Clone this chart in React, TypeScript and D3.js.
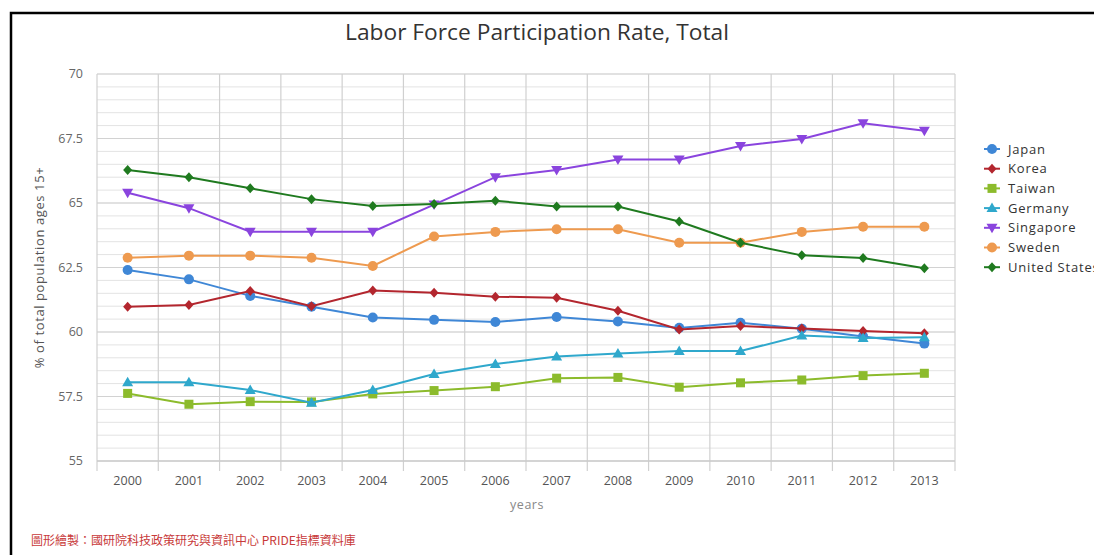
import React from "react";
import * as d3 from "d3";

const years = ["2000","2001","2002","2003","2004","2005","2006","2007","2008","2009","2010","2011","2012","2013"];
const yTicks = [55, 57.5, 60, 62.5, 65, 67.5, 70];

const japan = [62.4, 62.04, 61.4, 60.98, 60.56, 60.47, 60.39, 60.58, 60.41, 60.16, 60.36, 60.13, 59.83, 59.55];
const korea = [60.98, 61.05, 61.59, 61.0, 61.61, 61.52, 61.37, 61.33, 60.82, 60.1, 60.23, 60.14, 60.04, 59.95];
const taiwan = [57.62, 57.2, 57.3, 57.29, 57.6, 57.73, 57.88, 58.21, 58.24, 57.86, 58.03, 58.14, 58.31, 58.4];
const germany = [58.05, 58.05, 57.75, 57.26, 57.75, 58.37, 58.76, 59.05, 59.17, 59.26, 59.26, 59.86, 59.77, 59.8];
const singapore = [65.4, 64.8, 63.89, 63.89, 63.89, 64.94, 66.0, 66.28, 66.69, 66.69, 67.21, 67.48, 68.09, 67.8];
const sweden = [62.88, 62.96, 62.96, 62.88, 62.56, 63.7, 63.88, 63.98, 63.98, 63.46, 63.46, 63.88, 64.08, 64.08];
const unitedStates = [66.28, 66.0, 65.57, 65.15, 64.88, 64.96, 65.09, 64.86, 64.86, 64.28, 63.46, 62.97, 62.87, 62.47];

const seriesNames = ["Japan", "Korea", "Taiwan", "Germany", "Singapore", "Sweden", "United States"];
const seriesValues = [japan, korea, taiwan, germany, singapore, sweden, unitedStates];
const seriesColors = ["#3f87d6", "#b3262e", "#8cbb2c", "#2fa8cc", "#8a44de", "#ee9a4f", "#1f7a1f"];
const seriesMarkers = ["circle", "diamond", "square", "triangle", "triangle-down", "circle", "diamond"];

const W = 1094, H = 555;
const plot = { left: 97, right: 955, top: 74, bottom: 461 };
const font = "'Open Sans', 'DejaVu Sans', sans-serif";

function Marker({ type, x, y, color }: { type: string; x: number; y: number; color: string }) {
  if (type === "circle") return <circle cx={x} cy={y} r={5} fill={color} />;
  if (type === "square") return <rect x={x - 4.5} y={y - 4.5} width={9} height={9} fill={color} />;
  if (type === "diamond") return <path d={`M${x},${y - 5}L${x + 4.5},${y}L${x},${y + 5}L${x - 4.5},${y}Z`} fill={color} />;
  if (type === "triangle") return <path d={`M${x},${y - 5.5}L${x + 5.5},${y + 4}L${x - 5.5},${y + 4}Z`} fill={color} />;
  return <path d={`M${x},${y + 5.5}L${x + 5.5},${y - 4}L${x - 5.5},${y - 4}Z`} fill={color} />;
}

export default function App() {
  const x = d3.scaleBand<string>().domain(years).range([plot.left, plot.right]);
  const y = d3.scaleLinear().domain([55, 70]).range([plot.bottom, plot.top]);
  const minor = d3.range(55, 70.01, 0.5);
  const line = d3.line<number>().x((_, i) => (x(years[i]) as number) + x.bandwidth() / 2).y((v) => y(v));
  const boundaries = years.map((yr) => x(yr) as number).concat([plot.right]);

  return (
    <svg width={W} height={H} style={{ position: "absolute", left: 0, top: 0, background: "#fff" }}>
      <rect x={11} y={13} width={W} height={H} fill="none" stroke="#000" strokeWidth={2.5} />
      <text x={537} y={40} textAnchor="middle" fontFamily={font} fontSize={22} fill="#333" textLength={384} lengthAdjust="spacingAndGlyphs">
        Labor Force Participation Rate, Total
      </text>
      {minor.map((v) => (
        <line key={"m" + v} x1={plot.left} x2={plot.right} y1={y(v)} y2={y(v)} stroke="#e3e3e3" strokeWidth={1} />
      ))}
      {yTicks.map((v) => (
        <line key={"g" + v} x1={plot.left} x2={plot.right} y1={y(v)} y2={y(v)} stroke="#d2d2d2" strokeWidth={1.2} />
      ))}
      {boundaries.map((bx, i) => (
        <line key={"v" + i} x1={bx} x2={bx} y1={plot.top} y2={plot.bottom + 10} stroke="#d0d0d0" strokeWidth={1.2} />
      ))}
      <line x1={plot.left} x2={plot.right} y1={plot.bottom} y2={plot.bottom} stroke="#c8c8c8" strokeWidth={1.2} />
      {yTicks.map((v) => (
        <text key={"yt" + v} x={83} y={y(v) + 4} textAnchor="end" fontFamily={font} fontSize={12.5} fill="#666">
          {v}
        </text>
      ))}
      {years.map((yr) => (
        <text key={"xt" + yr} x={(x(yr) as number) + x.bandwidth() / 2} y={485} textAnchor="middle" fontFamily={font} fontSize={12.5} fill="#555">
          {yr}
        </text>
      ))}
      <text x={527} y={509} textAnchor="middle" fontFamily={font} fontSize={12.5} fill="#888" letterSpacing={0.5}>years</text>
      <text transform={`translate(44,${(plot.top + plot.bottom) / 2}) rotate(-90)`} textAnchor="middle" fontFamily={font} fontSize={13} fill="#555" letterSpacing={0.6}>
        % of total population ages 15+
      </text>
      {seriesValues.map((vals, si) => (
        <g key={seriesNames[si]}>
          <path d={line(vals) || ""} fill="none" stroke={seriesColors[si]} strokeWidth={2} />
          {vals.map((v, i) => (
            <Marker key={i} type={seriesMarkers[si]} x={(x(years[i]) as number) + x.bandwidth() / 2} y={y(v)} color={seriesColors[si]} />
          ))}
        </g>
      ))}
      {seriesNames.map((n, si) => {
        const ly = 149 + si * 19.7;
        return (
          <g key={"lg" + n}>
            <line x1={984} x2={1000} y1={ly} y2={ly} stroke={seriesColors[si]} strokeWidth={2} />
            <Marker type={seriesMarkers[si]} x={992} y={ly} color={seriesColors[si]} />
            <text x={1008} y={ly + 4.5} fontFamily={font} fontSize={13} fill="#333" letterSpacing={0.8}>{n}</text>
          </g>
        );
      })}
      <text x={31} y={545} fontFamily="'Noto Sans CJK TC', 'Noto Sans CJK SC', sans-serif" fontSize={12} fill="#c83a3a">
        圖形繪製：國研院科技政策研究與資訊中心 PRIDE指標資料庫
      </text>
    </svg>
  );
}
